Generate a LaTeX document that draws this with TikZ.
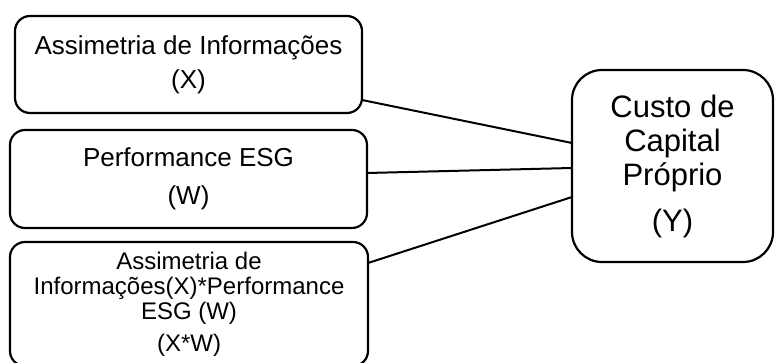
\documentclass[tikz,border=0pt]{standalone}
\usepackage{fontspec}
\setmainfont{Liberation Sans}
\usepackage{tikz}
\usetikzlibrary{positioning}

\begin{document}
\begin{tikzpicture}[
  x=1pt, y=-1pt,
  every node/.style={font=\fontsize{26}{33}\selectfont},
  box/.style={draw=black, line width=2.2pt, rounded corners=15pt, align=center,
              inner sep=0pt, outer sep=0pt},
  ybox/.style={box, rounded corners=30pt, font=\fontsize{31}{34}\selectfont},
  link/.style={draw=black, line width=2pt},
]
\useasboundingbox (0,0) rectangle (775,363);
\clip (0,0) rectangle (775,363);

% Independent variables
\node[box, minimum width=347pt, minimum height=97pt] (asym) at (188.5, 64.5)
  {Assimetria de Informações\\[1pt](X)};
\node[box, minimum width=357pt, minimum height=98pt,
      font=\fontsize{26}{38}\selectfont] (esg) at (188.5, 179)
  {Performance ESG\\(W)};
\node[box, minimum width=358pt, minimum height=124pt,
      font=\fontsize{24}{25}\selectfont] (inter) at (189, 304)
  {Assimetria de\\Informações(X)*Performance\\ESG (W)\\[7pt](X*W)};

% Dependent variable
\node[ybox, minimum width=201pt, minimum height=192pt] (custo) at (672.5, 166)
  {Custo de\\Capital\\Próprio\\[12pt](Y)};

% Links
\draw[link] ([yshift=-35.5pt]asym.east) -- ([yshift=23pt]custo.west);
\draw[link] ([yshift=6pt]esg.east) -- ([yshift=-2pt]custo.west);
\draw[link] ([yshift=41pt]inter.east) -- ([yshift=-31pt]custo.west);

\end{tikzpicture}
\end{document}
